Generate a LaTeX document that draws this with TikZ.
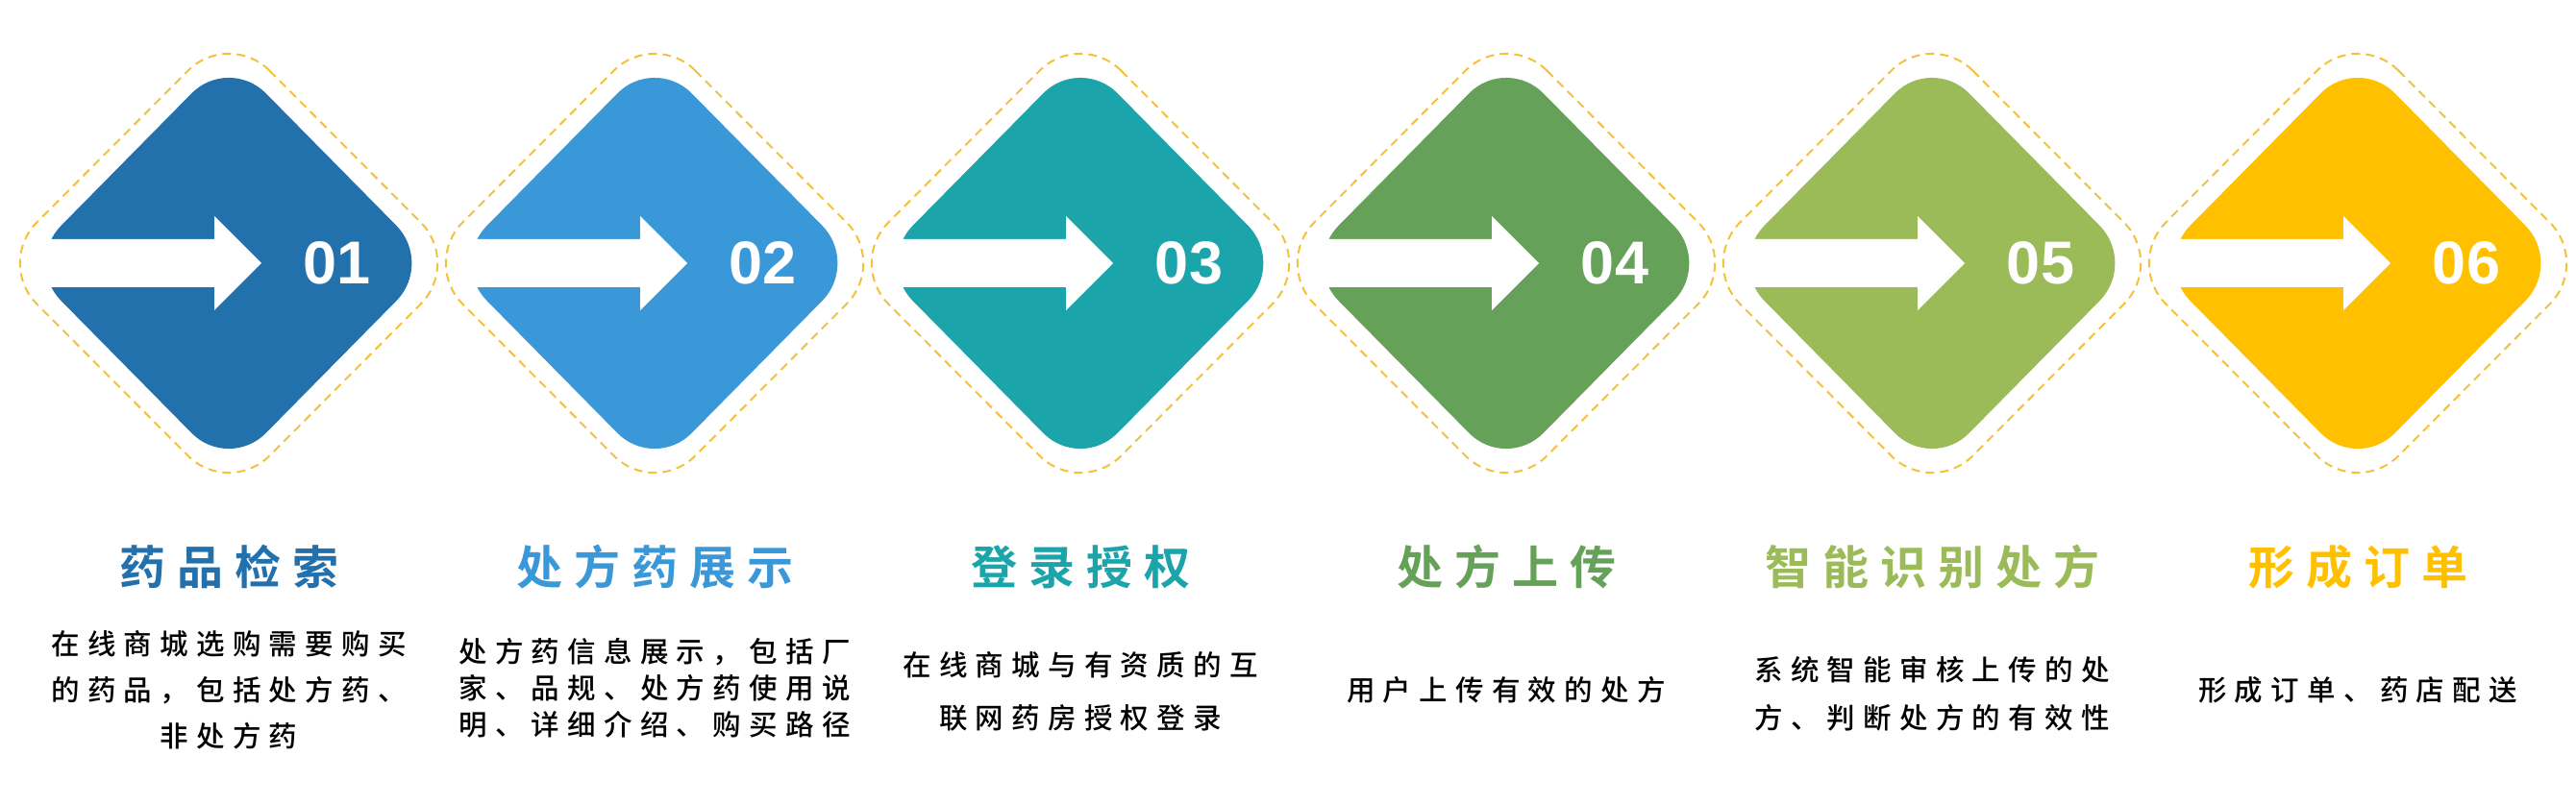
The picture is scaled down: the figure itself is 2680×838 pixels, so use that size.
\documentclass[tikz,border=0pt]{standalone}
\usepackage{fontspec}
\setmainfont{Liberation Sans}
\newfontfamily\cjkt[LetterSpace=25]{Noto Sans CJK SC Bold}
\newfontfamily\cjkd[LetterSpace=28]{Noto Sans CJK SC Medium}
\definecolor{c1}{HTML}{2271AD}
\definecolor{c2}{HTML}{3A98D9}
\definecolor{c3}{HTML}{1BA5AA}
\definecolor{c4}{HTML}{66A15A}
\definecolor{c5}{HTML}{9BBB59}
\definecolor{c6}{HTML}{FFC000}
\definecolor{dashc}{HTML}{F2C23A}
\tikzset{
  ttl/.style={font=\fontsize{48}{54}\selectfont\cjkt, anchor=center},
  dsc/.style={font=\fontsize{29.5}{48}\selectfont\cjkd, align=center, anchor=center, text=black},
  num/.style={font=\fontsize{63}{64}\selectfont\bfseries, text=white, anchor=center},
}
\newcommand{\stepdiamond}[4]{% x, color, number, name
  \begin{scope}[shift={(#1,564)}]
    \draw[dashc, line width=2pt, dash pattern=on 9pt off 6pt, rounded corners=60] (0,243) -- (242,0) -- (0,-243) -- (-242,0) -- cycle;
    \fill[#2, rounded corners=55] (0,216) -- (213,0) -- (0,-216) -- (-213,0) -- cycle;
    \fill[white] (-192,25) -- (-15,25) -- (-15,49) -- (34,0) -- (-15,-49) -- (-15,-25) -- (-192,-25) -- cycle;
    \node[num] (#4) at (113,0) {#3};
  \end{scope}
}
\begin{document}
\begin{tikzpicture}[x=1pt,y=1pt]
\useasboundingbox (0,0) rectangle (2680,838);
\stepdiamond{238}{c1}{01}{n1}
\stepdiamond{681}{c2}{02}{n2}
\stepdiamond{1124}{c3}{03}{n3}
\stepdiamond{1567}{c4}{04}{n4}
\stepdiamond{2010}{c5}{05}{n5}
\stepdiamond{2453}{c6}{06}{n6}
\node[ttl, text=c1] (t1) at (238,248) {药品检索};
\node[ttl, text=c2] (t2) at (681,248) {处方药展示};
\node[ttl, text=c3] (t3) at (1124,248) {登录授权};
\node[ttl, text=c4] (t4) at (1567,248) {处方上传};
\node[ttl, text=c5] (t5) at (2010,248) {智能识别处方};
\node[ttl, text=c6] (t6) at (2453,248) {形成订单};
\node[dsc] (d1) at (238,120) {在线商城选购需要购买\\的药品，包括处方药、\\非处方药};
\node[dsc, font=\fontsize{29.5}{38}\selectfont\cjkd] (d2) at (681,122) {处方药信息展示，包括厂\\家、品规、处方药使用说\\明、详细介绍、购买路径};
\node[dsc, font=\fontsize{29.5}{55}\selectfont\cjkd] (d3) at (1124,118) {在线商城与有资质的互\\联网药房授权登录};
\node[dsc] (d4) at (1567,120) {用户上传有效的处方};
\node[dsc, font=\fontsize{29.5}{50}\selectfont\cjkd] (d5) at (2010,116) {系统智能审核上传的处\\方、判断处方的有效性};
\node[dsc] (d6) at (2453,120) {形成订单、药店配送};
\end{tikzpicture}
\end{document}
